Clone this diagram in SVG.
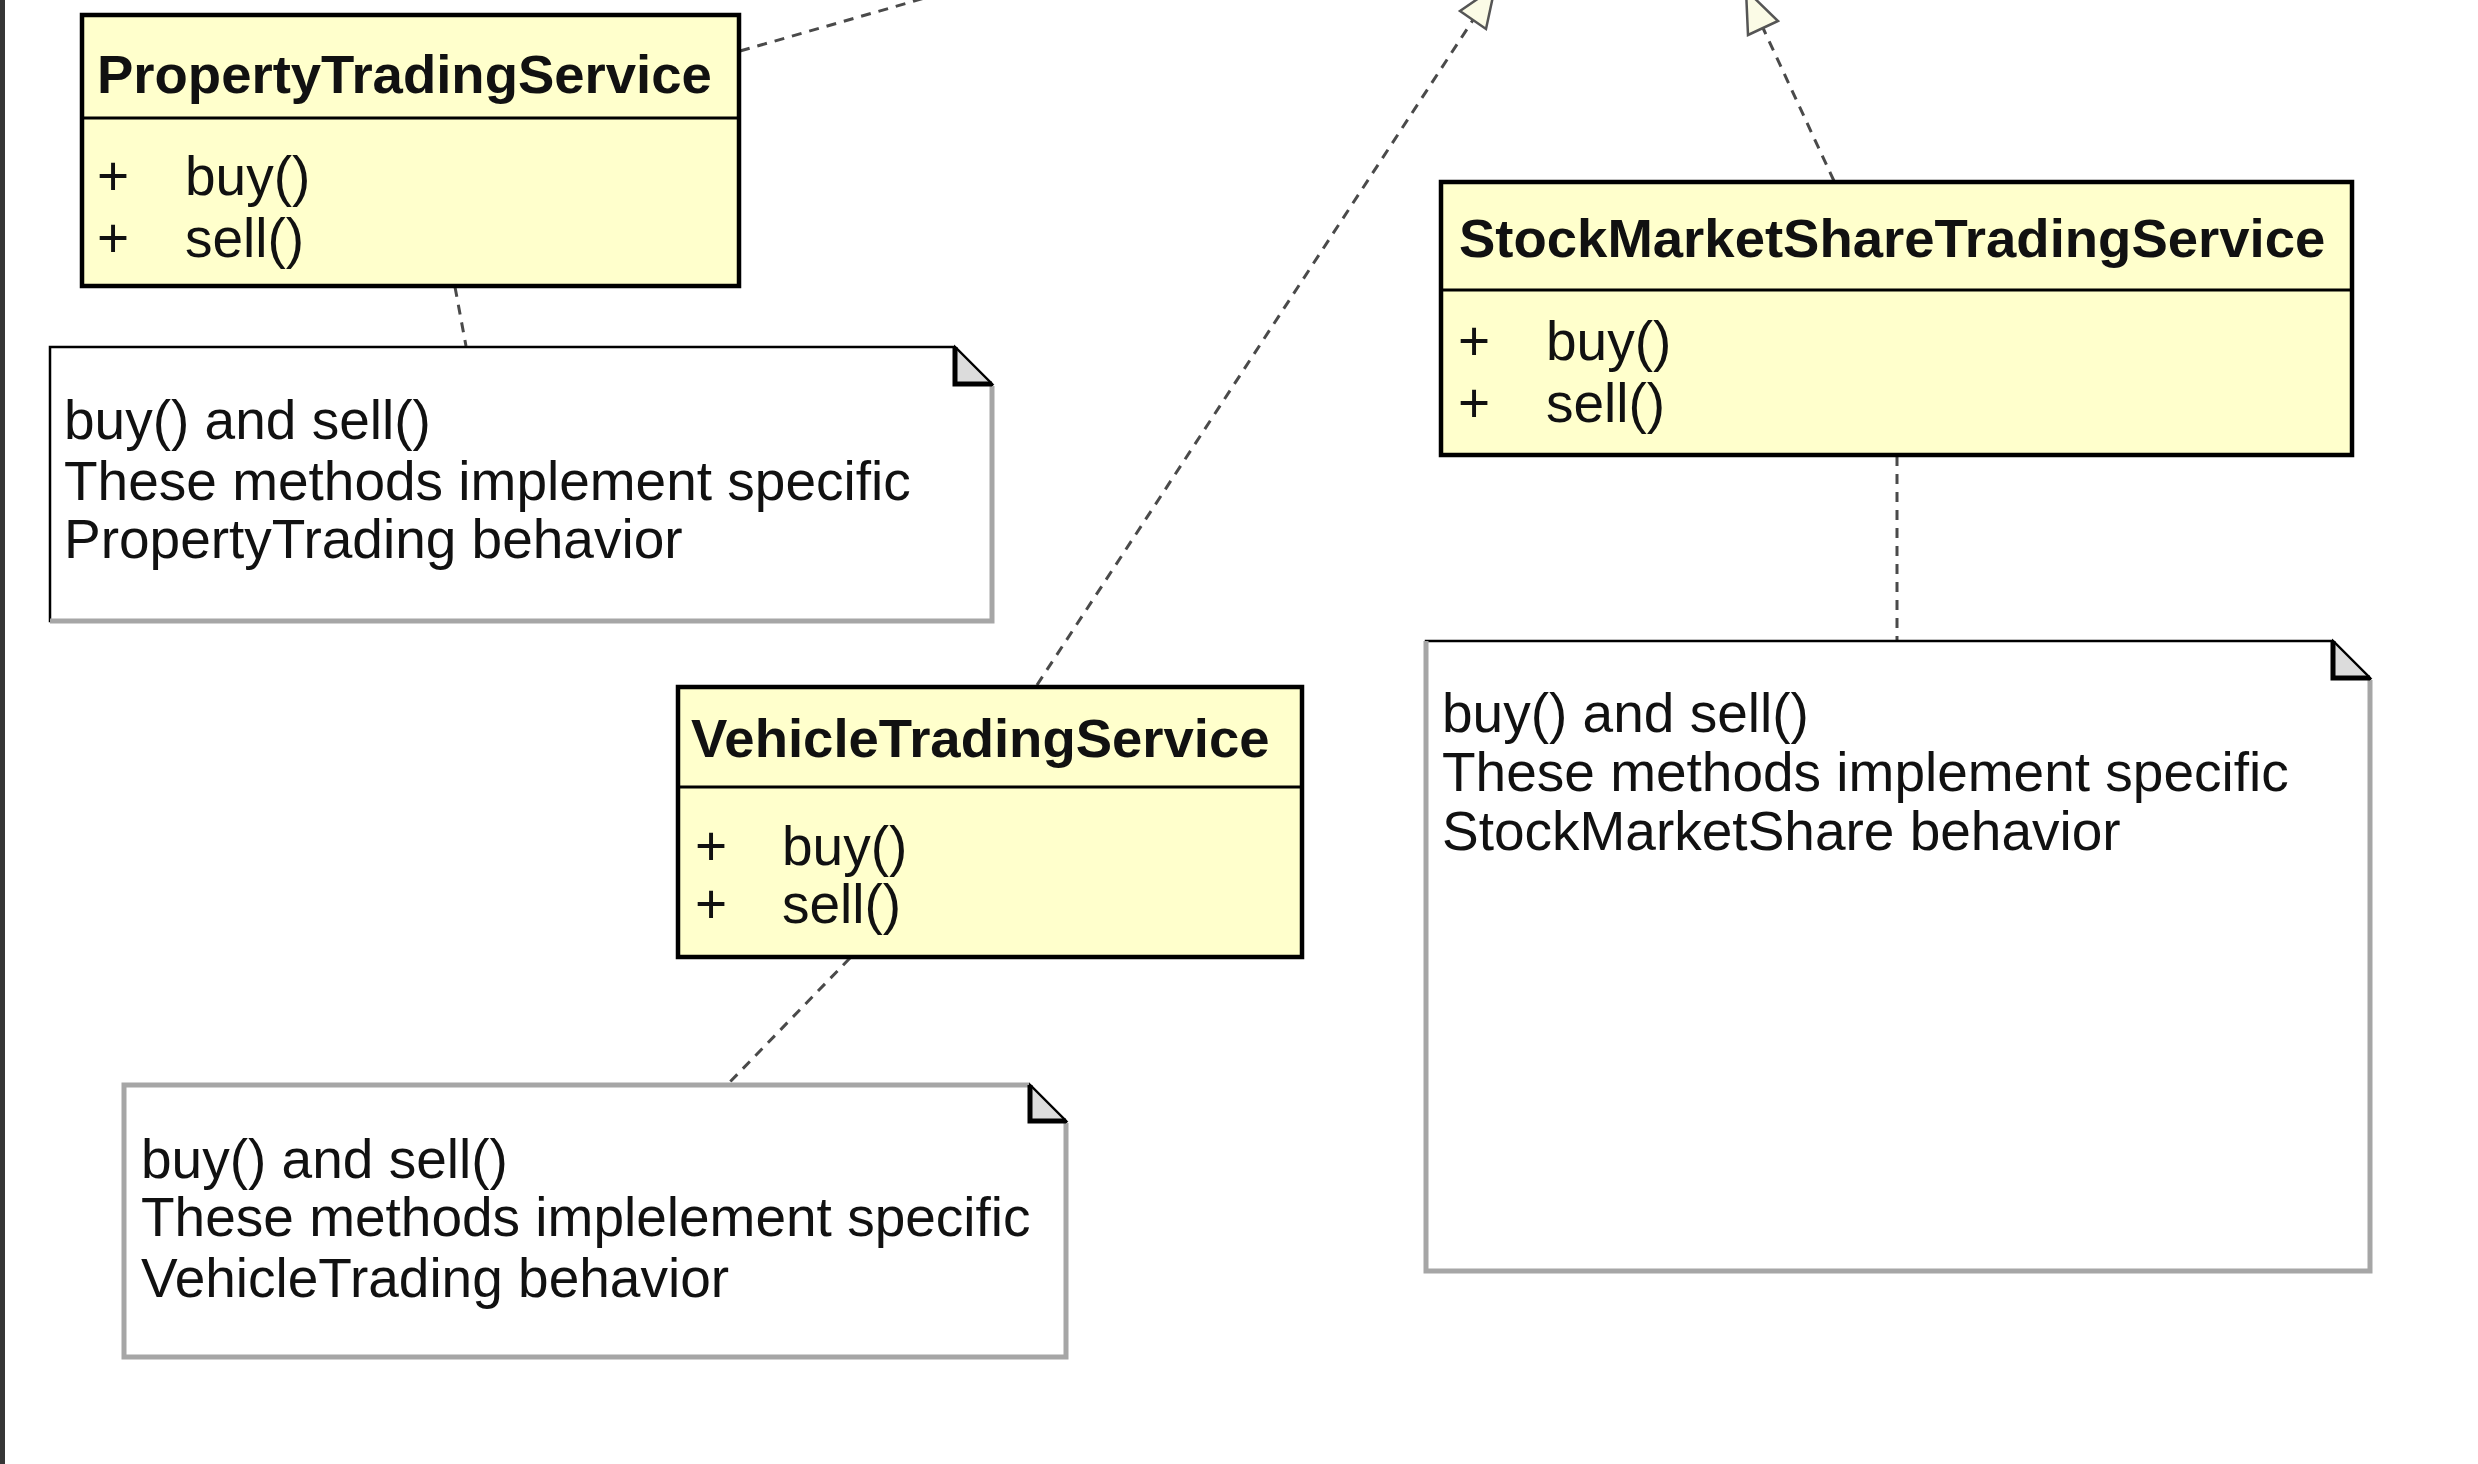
<svg xmlns="http://www.w3.org/2000/svg" width="2478" height="1464" viewBox="0 0 2478 1464">
<style>
  text { font-family: "Liberation Sans", Arial, sans-serif; fill: #111; }
  .box { fill: #ffffcc; stroke: #000; stroke-width: 4.5; }
  .div { stroke: #000; stroke-width: 3; }
  .title { font-size: 54.5px; font-weight: bold; }
  .mem { font-size: 55px; }
  .note { fill: #fff; stroke: #000; stroke-width: 2.5; }
  .shadow { fill: none; stroke: #a6a6a6; stroke-width: 5; }
  .fold { fill: #dcdcdc; stroke: #000; stroke-width: 2; }
  .foldl { fill: none; stroke: #000; stroke-width: 5; }
  .ntext { font-size: 55px; }
  .conn { fill: none; stroke: #4a4a4a; stroke-width: 3; stroke-dasharray: 10 8; }
  .arrow { fill: #fbfbe6; stroke: #555; stroke-width: 2.5; }
</style>

<rect x="0" y="0" width="5" height="1464" fill="#363636"/>

<g id="connectors">
  <path class="conn" d="M740 51 L925 -2"/>
  <path class="conn" d="M1037 685 L1473 20"/>
  <polygon class="arrow" points="1460,11 1486,29 1495,-13"/>
  <path class="conn" d="M1834 181 L1763 28"/>
  <polygon class="arrow" points="1748,35 1778,21 1746,-10"/>
  <path class="conn" d="M455 287 L466 346"/>
  <path class="conn" d="M1897 456 L1897 640"/>
  <path class="conn" d="M850 958 L728 1084"/>
</g>

<g id="PropertyTradingService">
  <rect class="box" x="82" y="15" width="657" height="271"/>
  <line class="div" x1="82" y1="118" x2="739" y2="118"/>
  <text class="title" x="97" y="93">PropertyTradingService</text>
  <text class="mem" x="97" y="195">+</text>
  <text class="mem" x="185" y="195">buy()</text>
  <text class="mem" x="97" y="257">+</text>
  <text class="mem" x="185" y="257">sell()</text>
</g>

<g id="VehicleTradingService">
  <rect class="box" x="678" y="687" width="624" height="270"/>
  <line class="div" x1="678" y1="787" x2="1302" y2="787"/>
  <text class="title" x="691" y="757">VehicleTradingService</text>
  <text class="mem" x="695" y="865">+</text>
  <text class="mem" x="782" y="865">buy()</text>
  <text class="mem" x="695" y="923">+</text>
  <text class="mem" x="782" y="923">sell()</text>
</g>

<g id="StockMarketShareTradingService">
  <rect class="box" x="1441" y="182" width="911" height="273"/>
  <line class="div" x1="1441" y1="290" x2="2352" y2="290"/>
  <text class="title" x="1459" y="257">StockMarketShareTradingService</text>
  <text class="mem" x="1458" y="360">+</text>
  <text class="mem" x="1546" y="360">buy()</text>
  <text class="mem" x="1458" y="422">+</text>
  <text class="mem" x="1546" y="422">sell()</text>
</g>

<g id="note_property">
  <path class="note" d="M50 347 H955 L992 384 V621 H50 Z"/>
  <path class="shadow" d="M992 386 V621 H50"/>
  <path class="fold" d="M955 347 L992 384 H955 Z"/>
  <path class="foldl" d="M955 347 V384 H992"/>
  <text class="ntext" x="64" y="439">buy() and sell()</text>
  <text class="ntext" x="64" y="500">These methods implement specific</text>
  <text class="ntext" x="64" y="558">PropertyTrading behavior</text>
</g>

<g id="note_stock">
  <path class="note" d="M1426 641 H2333 L2370 678 V1271 H1426 Z"/>
  <path class="shadow" d="M2370 680 V1271 H1426 V641"/>
  <path class="fold" d="M2333 641 L2370 678 H2333 Z"/>
  <path class="foldl" d="M2333 641 V678 H2370"/>
  <text class="ntext" x="1442" y="732">buy() and sell()</text>
  <text class="ntext" x="1442" y="791">These methods implement specific</text>
  <text class="ntext" x="1442" y="850">StockMarketShare behavior</text>
</g>

<g id="note_vehicle">
  <path class="note" d="M124 1085 H1030 L1066 1121 V1357 H124 Z"/>
  <path class="shadow" d="M1066 1123 V1357 H124 V1085 H1030"/>
  <path class="fold" d="M1030 1085 L1066 1121 H1030 Z"/>
  <path class="foldl" d="M1030 1085 V1121 H1066"/>
  <text class="ntext" x="141" y="1178">buy() and sell()</text>
  <text class="ntext" x="141" y="1236">These methods implelement specific</text>
  <text class="ntext" x="141" y="1297">VehicleTrading behavior</text>
</g>
</svg>
